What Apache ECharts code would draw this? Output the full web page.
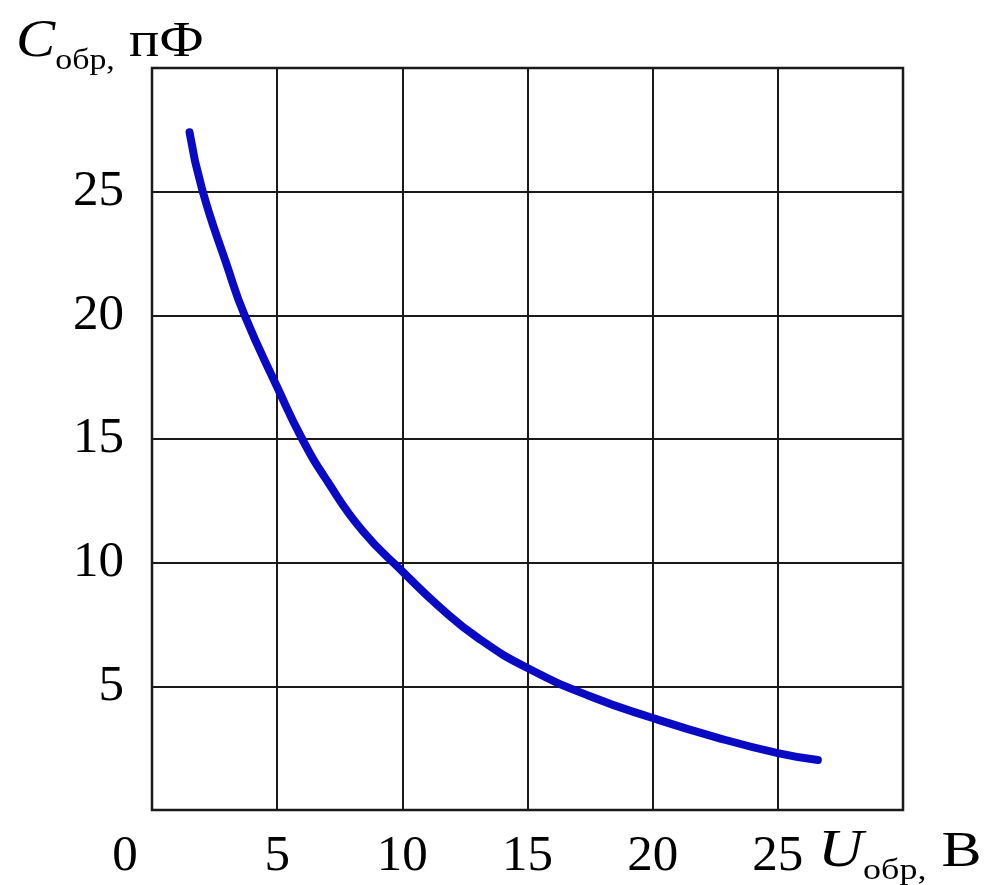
<!DOCTYPE html>
<html>
<head>
<meta charset="utf-8">
<script src="https://cdn.jsdelivr.net/npm/echarts@6/dist/echarts.min.js"></script>
<style>html,body{margin:0;padding:0;background:#fff}#c{width:994px;height:885px}</style>
</head>
<body>
<div id="c"></div>
<script>
// Data
var voltage = [1.5, 2, 3, 3.7, 5, 6, 7, 8.4, 10, 11.5, 13.1, 15, 17.5, 20, 22.5, 25, 26.6];
var capacitance = [27.4, 25.1, 22.0, 20.0, 17.1, 15.0, 13.3, 11.3, 9.65, 8.2, 6.9, 5.74, 4.6, 3.72, 2.95, 2.3, 2.02];
var xTicks = [0, 5, 10, 15, 20, 25, 30];
var yTicks = [0, 5, 10, 15, 20, 25, 30];
var xTitle = ['U', 'обр,', ' В'];
var yTitle = ['C', 'обр,', ' пФ'];

var serif = 'Liberation Serif';
var points = voltage.map(function (v, i) { return [v, capacitance[i]]; });

function titleRich() {
  return {
    i: { fontFamily: serif, fontStyle: 'italic', fontSize: 52, fill: '#000', verticalAlign: 'bottom' },
    s: { fontFamily: serif, fontSize: 30, fill: '#000', verticalAlign: 'bottom', padding: [0, 0, -8, 0] },
    n: { fontFamily: serif, fontSize: 50, fill: '#000', verticalAlign: 'bottom' }
  };
}

var chart = echarts.init(document.getElementById('c'));
chart.setOption({
  backgroundColor: '#fff',
  animation: false,
  grid: { left: 152, right: 91, top: 68, bottom: 75, show: true, borderColor: '#1a1a1a', borderWidth: 2.5 },
  xAxis: {
    type: 'value', min: xTicks[0], max: xTicks[xTicks.length - 1], interval: 5,
    axisLine: { show: false }, axisTick: { show: false },
    splitLine: { show: true, lineStyle: { color: '#1a1a1a', width: 2 } },
    axisLabel: {
      margin: 21, color: '#000', fontFamily: serif, fontSize: 51,
      formatter: function (v) {
        if (v === xTicks[xTicks.length - 1]) return '';
        if (v === 0) return '{z|0}';
        return String(v);
      },
      rich: { z: { fontFamily: serif, fontSize: 51, color: '#000', padding: [0, 54, 0, 0] } }
    }
  },
  yAxis: {
    type: 'value', min: yTicks[0], max: yTicks[yTicks.length - 1], interval: 5,
    axisLine: { show: false }, axisTick: { show: false },
    splitLine: { show: true, lineStyle: { color: '#1a1a1a', width: 2 } },
    axisLabel: {
      margin: 28, color: '#000', fontFamily: serif, fontSize: 51,
      formatter: function (v) { return (v === 0 || v === yTicks[yTicks.length - 1]) ? '' : String(v); }
    }
  },
  graphic: [
    {
      type: 'text', x: 16, y: 16, scaleX: 1.13,
      style: {
        text: '{i|' + yTitle[0] + '}{s|' + yTitle[1] + '}{n|' + yTitle[2] + '}',
        rich: titleRich()
      }
    },
    {
      type: 'text', x: 818, y: 826, scaleX: 1.2,
      style: {
        text: '{i|' + xTitle[0] + '}{s|' + xTitle[1] + '}{n|' + xTitle[2] + '}',
        rich: titleRich()
      }
    }
  ],
  series: [{
    type: 'line', data: points, smooth: 0.5, showSymbol: false,
    lineStyle: { color: '#0a0ac4', width: 8, cap: 'round' }
  }]
});
</script>
</body>
</html>
